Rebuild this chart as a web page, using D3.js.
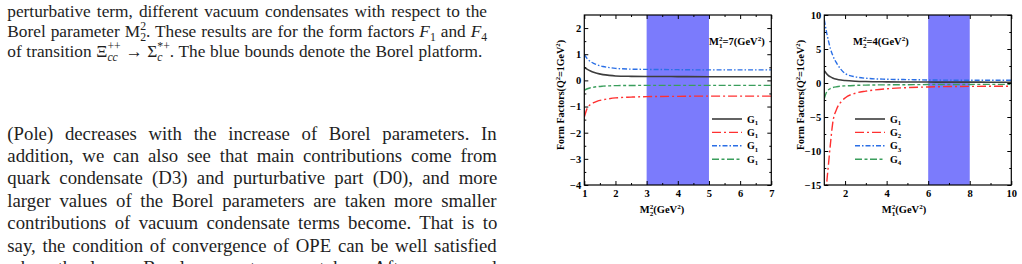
<!DOCTYPE html>
<html>
<head>
<meta charset="utf-8">
<title>Form factors vs Borel parameters</title>
<script src="https://cdn.jsdelivr.net/npm/d3@7"></script>
<style>
    body { margin: 0; background: #fff; }
    svg { display: block; }
    .page { font-family: "Liberation Serif", "Times New Roman", serif; fill: #1e1e1e; }
    .axis text { font-family: "Liberation Serif", serif; font-weight: bold; font-size: 10.5px; fill: #000; }
    .axis line { stroke: #000; stroke-width: 1; }
    .axis path { display: none; }
    .lab { font-family: "Liberation Serif", serif; font-weight: bold; fill: #000; }
</style>
</head>
<body>
<script>

// left panel: M1^2 = 7 GeV^2, curves against M2^2
var m2Grid  = [1, 1.1, 1.2, 1.3, 1.4, 1.6, 1.8, 2, 2.5, 3, 4, 5, 6, 7];
var leftG1  = [0.50, 0.42, 0.36, 0.31, 0.27, 0.22, 0.19, 0.17, 0.155, 0.15, 0.145, 0.14, 0.14, 0.14];
var leftG2  = [-1.40, -1.05, -0.92, -0.85, -0.80, -0.74, -0.70, -0.67, -0.64, -0.62, -0.61, -0.60, -0.60, -0.60];
var leftG3  = [0.98, 0.82, 0.72, 0.65, 0.60, 0.53, 0.49, 0.46, 0.43, 0.42, 0.41, 0.40, 0.40, 0.40];
var leftG4  = [-0.38, -0.32, -0.28, -0.26, -0.24, -0.22, -0.21, -0.20, -0.195, -0.19, -0.19, -0.19, -0.19, -0.19];

// right panel: M2^2 = 4 GeV^2, curves against M1^2
var m1Grid  = [1, 1.1, 1.2, 1.3, 1.4, 1.6, 1.8, 2, 2.5, 3, 4, 5, 6, 7, 8, 9, 10];
var rightG1 = [1.8, 1.4, 1.1, 0.9, 0.75, 0.55, 0.43, 0.36, 0.26, 0.21, 0.17, 0.15, 0.14, 0.13, 0.13, 0.12, 0.12];
var rightG2 = [-22, -15.5, -12, -8.8, -6.0, -3.8, -2.8, -2.2, -1.5, -1.2, -0.85, -0.68, -0.58, -0.52, -0.50, -0.48, -0.47];
var rightG3 = [9.3, 7.6, 6.2, 5.0, 4.1, 2.9, 2.0, 1.4, 0.9, 0.7, 0.55, 0.5, 0.45, 0.42, 0.40, 0.40, 0.40];
var rightG4 = [-2.3, -1.4, -1.0, -0.8, -0.68, -0.55, -0.47, -0.42, -0.35, -0.31, -0.27, -0.25, -0.23, -0.22, -0.21, -0.20, -0.20];

var leftBand  = [3, 5];
var rightBand = [6, 8];
var leftXTicks  = [1, 2, 3, 4, 5, 6, 7];
var leftYTicks  = [-4, -3, -2, -1, 0, 1, 2];
var rightXTicks = [2, 4, 6, 8, 10];
var rightYTicks = [-15, -10, -5, 0, 5, 10];
var leftLegend  = ["1", "1", "1", "1"];   // printed like this in the figure
var rightLegend = ["1", "2", "3", "4"];

var colors = ["#3d3d3d", "#ff3030", "#2a6fe6", "#3a9e5c"];
var dashes = [null, "9,3,2,3", "5,2,1.5,2", "7,2.5,3,2.5"];

var captionLines = [
    ["perturbative term, different vacuum condensates with respect to the"],
    ["Borel parameter M", {sub: "2", sup: "2"}, ". These results are for the form factors ", {i: "F"}, {sub: "1"}, " and ", {i: "F"}, {sub: "4"}],
    ["of transition \u039E", {sub: "cc", sup: "++", subI: true}, " \u2192 \u03A3", {sub: "c", sup: "*+", subI: true}, ". The blue bounds denote the Borel platform."]
];
var bodyLines = [
    "(Pole) decreases with the increase of Borel parameters. In",
    "addition, we can also see that main contributions come from",
    "quark condensate (D3) and purturbative part (D0), and more",
    "larger values of the Borel parameters are taken more smaller",
    "contributions of vacuum condensate terms become. That is to",
    "say, the condition of convergence of OPE can be well satisfied",
    "when the larger Borel parameters are taken. After compared"
];

var svg = d3.select("body").append("svg")
        .attr("width", 1022)
        .attr("height", 264);

// text with stacked sub/superscripts
function richText(t, parts, fs) {
    var off = 0, dx = 0;
    function put(txt, y, size, it) {
        var s = t.append("tspan").text(txt).attr("dy", y - off).attr("dx", dx);
        if (size) s.attr("font-size", size);
        if (it) s.attr("font-style", "italic");
        off = y; dx = 0;
        return s.node().getComputedTextLength();
    }
    parts.forEach(function (p) {
        if (typeof p === "string") { put(p, 0); return; }
        if (p.i) { put(p.i, 0, null, true); return; }
        var sm = fs * 0.68, wSup = 0, wSub = 0;
        if (p.sup) wSup = put(p.sup, -fs * 0.38, sm);
        if (p.sub) {
            if (p.sup) dx = -wSup;
            wSub = put(p.sub, fs * 0.24, sm, p.subI);
        }
        if (p.sup && p.sub) dx = Math.max(0, wSup - wSub);
    });
}

function justify(t, width) {
    var w = t.node().getBBox().width;
    var n = t.node().textContent.replace(/\s+/g, " ").trim().split(" ").length - 1;
    if (n > 0) t.attr("word-spacing", (width - w) / n);
}

// caption block
captionLines.forEach(function (parts, i) {
    var t = svg.append("text").attr("class", "page")
            .attr("x", 7.3).attr("y", 16.5 + i * 20)
            .attr("font-size", 17.3);
    richText(t, parts, 17.3);
    justify(t, i < 2 ? 480 : 475);
});

// body block
bodyLines.forEach(function (line, i) {
    var t = svg.append("text").attr("class", "page")
            .attr("x", 7.3).attr("y", 139.5 + i * 22.4)
            .attr("font-size", 18.8)
            .text(line);
    justify(t, 490);
});

function drawChart(o) {
    var x = d3.scaleLinear().domain(o.xDom).range([o.x0, o.x1]);
    var y = d3.scaleLinear().domain(o.yDom).range([o.y1, o.y0]);
    var g = svg.append("g");

    svg.append("clipPath").attr("id", o.id)
        .append("rect")
        .attr("x", o.x0).attr("y", o.y0)
        .attr("width", o.x1 - o.x0).attr("height", o.y1 - o.y0);

    g.append("rect")
        .attr("x", x(o.band[0])).attr("y", o.y0)
        .attr("width", x(o.band[1]) - x(o.band[0]))
        .attr("height", o.y1 - o.y0)
        .attr("fill", "#7b7bfc");

    var line = d3.line()
            .x(function (d) { return x(d[0]); })
            .y(function (d) { return y(d[1]); })
            .curve(d3.curveMonotoneX);

    o.series.forEach(function (s, i) {
        g.append("path")
            .attr("d", line(d3.zip(o.xs, s)))
            .attr("fill", "none")
            .attr("stroke", colors[i])
            .attr("stroke-width", i === 0 ? 1.6 : 1.4)
            .attr("stroke-dasharray", dashes[i])
            .attr("clip-path", "url(#" + o.id + ")");
    });

    var fmt = d3.format("d");
    var xMinor = o.xTicks.map(function (d) { return d - o.xStep / 2; }).filter(function (d) { return d > o.xDom[0]; });
    var yMinor = o.yTicks.map(function (d) { return d + o.yStep / 2; }).filter(function (d) { return d < o.yDom[1]; });

    function ax(gen, tr) {
        svg.append("g").attr("class", "axis").attr("transform", tr).call(gen);
    }
    var bottom = "translate(0," + o.y1 + ")", top = "translate(0," + o.y0 + ")";
    var left = "translate(" + o.x0 + ",0)", right = "translate(" + o.x1 + ",0)";
    ax(d3.axisBottom(x).tickValues(o.xTicks).tickSize(-4).tickPadding(5).tickFormat(fmt), bottom);
    ax(d3.axisBottom(x).tickValues(xMinor).tickSize(-2).tickFormat(""), bottom);
    ax(d3.axisTop(x).tickValues(o.xTicks).tickSize(-4).tickFormat(""), top);
    ax(d3.axisTop(x).tickValues(xMinor).tickSize(-2).tickFormat(""), top);
    ax(d3.axisLeft(y).tickValues(o.yTicks).tickSize(-4).tickPadding(3).tickFormat(fmt), left);
    ax(d3.axisLeft(y).tickValues(yMinor).tickSize(-2).tickFormat(""), left);
    ax(d3.axisRight(y).tickValues(o.yTicks).tickSize(-4).tickFormat(""), right);
    ax(d3.axisRight(y).tickValues(yMinor).tickSize(-2).tickFormat(""), right);
    svg.selectAll(".axis text").filter(function () { return this.textContent === ""; }).remove();

    svg.append("rect")
        .attr("x", o.x0).attr("y", o.y0)
        .attr("width", o.x1 - o.x0).attr("height", o.y1 - o.y0)
        .attr("fill", "none").attr("stroke", "#000").attr("stroke-width", 1.2);

    // legend
    o.legend.forEach(function (sub, i) {
        var ly = o.legY + i * 13.4;
        svg.append("line")
            .attr("x1", o.legX).attr("x2", o.legX + 30)
            .attr("y1", ly).attr("y2", ly)
            .attr("stroke", colors[i])
            .attr("stroke-width", i === 0 ? 1.6 : 1.4)
            .attr("stroke-dasharray", dashes[i]);
        var t = svg.append("text").attr("class", "lab")
                .attr("x", o.legX + 35).attr("y", ly + 3.5)
                .attr("font-size", 10);
        richText(t, ["G", {sub: sub}], 10);
    });

    var a = svg.append("text").attr("class", "lab")
            .attr("x", o.noteX).attr("y", 45).attr("font-size", 10.5);
    richText(a, o.note, 10.5);

    var xl = svg.append("text").attr("class", "lab")
            .attr("x", o.xLabX).attr("y", 213).attr("font-size", 10.5)
            .attr("text-anchor", "middle");
    richText(xl, o.xLab, 10.5);

    var yl = svg.append("text").attr("class", "lab")
            .attr("transform", "translate(" + (o.x0 - 20.5) + ",95) rotate(-90)")
            .attr("font-size", 10)
            .attr("text-anchor", "middle");
    richText(yl, ["Form Factors(Q", {sup: "2"}, "=1GeV", {sup: "2"}, ")"], 10);
}

drawChart({
    id: "clipL", x0: 584.3, x1: 771.3, y0: 15, y1: 185,
    xDom: [1, 7], yDom: [-4, 2.5], xStep: 1, yStep: 1,
    xTicks: leftXTicks, yTicks: leftYTicks, band: leftBand,
    xs: m2Grid, series: [leftG1, leftG2, leftG3, leftG4],
    legend: leftLegend, legX: 712, legY: 119,
    noteX: 709, note: ["M", {sub: "1", sup: "2"}, "=7(GeV", {sup: "2"}, ")"],
    xLabX: 662, xLab: ["M", {sub: "2", sup: "2"}, "(GeV", {sup: "2"}, ")"]
});

drawChart({
    id: "clipR", x0: 824.3, x1: 1011.3, y0: 15, y1: 185,
    xDom: [1, 10], yDom: [-15, 10], xStep: 2, yStep: 5,
    xTicks: rightXTicks, yTicks: rightYTicks, band: rightBand,
    xs: m1Grid, series: [rightG1, rightG2, rightG3, rightG4],
    legend: rightLegend, legX: 855, legY: 119,
    noteX: 853, note: ["M", {sub: "2", sup: "2"}, "=4(GeV", {sup: "2"}, ")"],
    xLabX: 904, xLab: ["M", {sub: "1", sup: "2"}, "(GeV", {sup: "2"}, ")"]
});

</script>
</body>
</html>
